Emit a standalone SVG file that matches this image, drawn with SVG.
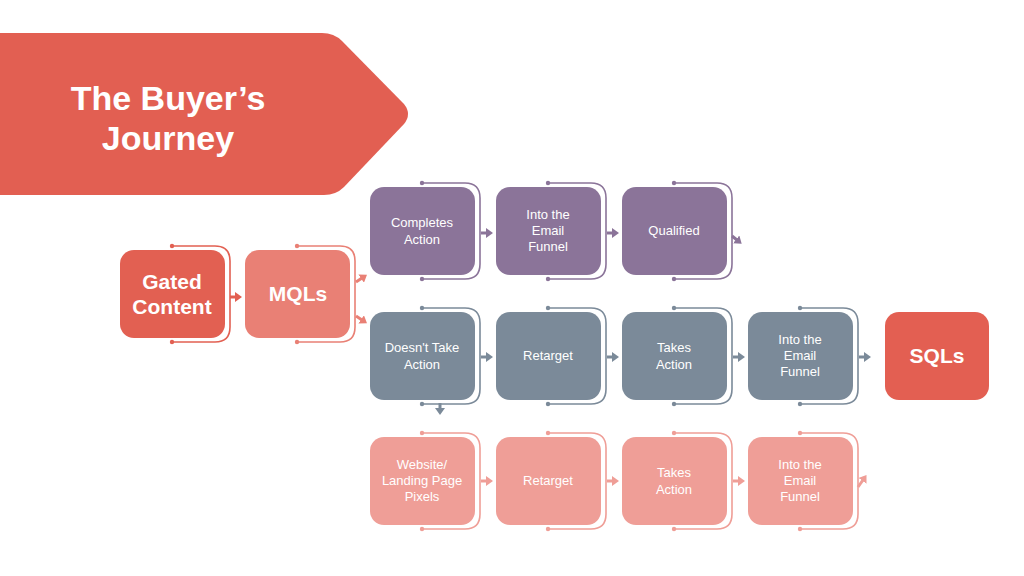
<svg xmlns="http://www.w3.org/2000/svg" width="1024" height="576" viewBox="0 0 1024 576">
<style>
text{font-family:"Liberation Sans",Arial,sans-serif;fill:#fff;text-anchor:middle}
.t{font-size:13px}
.b{font-size:21px;font-weight:bold}
.br{fill:none;stroke-width:1.6}
.ar{fill:none;stroke-width:3}
.red{fill:#E26052}.sal{fill:#E98075}.pur{fill:#8B7499}.sla{fill:#7B8A99}.pin{fill:#EF9E97}
.sred{stroke:#E26052}.ssal{stroke:#E98075}.spur{stroke:#8B7499}.ssla{stroke:#7B8A99}.spin{stroke:#EF9E97}
</style>
<defs>
<marker id="mred" viewBox="0 0 7 10" refX="1" refY="5" markerWidth="7" markerHeight="10" markerUnits="userSpaceOnUse" orient="auto"><path d="M0,0L7,5L0,10z" fill="#E26052"/></marker>
<marker id="msal" viewBox="0 0 7 10" refX="1" refY="5" markerWidth="7" markerHeight="10" markerUnits="userSpaceOnUse" orient="auto"><path d="M0,0L7,5L0,10z" fill="#E98075"/></marker>
<marker id="mpur" viewBox="0 0 7 10" refX="1" refY="5" markerWidth="7" markerHeight="10" markerUnits="userSpaceOnUse" orient="auto"><path d="M0,0L7,5L0,10z" fill="#8B7499"/></marker>
<marker id="msla" viewBox="0 0 7 10" refX="1" refY="5" markerWidth="7" markerHeight="10" markerUnits="userSpaceOnUse" orient="auto"><path d="M0,0L7,5L0,10z" fill="#7B8A99"/></marker>
<marker id="mpin" viewBox="0 0 7 10" refX="1" refY="5" markerWidth="7" markerHeight="10" markerUnits="userSpaceOnUse" orient="auto"><path d="M0,0L7,5L0,10z" fill="#EF9E97"/></marker>
</defs>
<rect width="1024" height="576" fill="#fff"/>

<g id="title">
<path d="M0,33H322Q334,33 342,41L404,104Q412,114 404,124L344,187Q336,195 324,195H0Z" fill="#E25F52"/>
<text x="168" y="110" style="font-size:34px;font-weight:bold">The Buyer’s</text>
<text x="168" y="150" style="font-size:34px;font-weight:bold">Journey</text>
</g>

<g id="gated">
<rect x="120" y="250" width="105" height="88" rx="14" class="red"/>
<path class="br sred" d="M172,246H215Q230,246 230,261V327Q230,342 215,342H172"/>
<circle cx="172" cy="246" r="2.2" class="red"/><circle cx="172" cy="342" r="2.2" class="red"/>
<text class="b" x="172" y="289">Gated</text><text class="b" x="172" y="314">Content</text>
</g>
<g id="mqls">
<rect x="245" y="250" width="105" height="88" rx="14" class="sal"/>
<path class="br ssal" d="M297,246H340Q355,246 355,261V327Q355,342 340,342H297"/>
<circle cx="297" cy="246" r="2.2" class="sal"/><circle cx="297" cy="342" r="2.2" class="sal"/>
<text class="b" x="298" y="301">MQLs</text>
</g>

<g id="completes">
<rect x="370" y="187" width="105" height="88" rx="14" class="pur"/>
<path class="br spur" d="M422,183H465Q480,183 480,198V264Q480,279 465,279H422"/>
<circle cx="422" cy="183" r="2.2" class="pur"/><circle cx="422" cy="279" r="2.2" class="pur"/>
<text class="t" x="422" y="227">Completes</text><text class="t" x="422" y="244">Action</text>
</g>
<g id="email1">
<rect x="496" y="187" width="105" height="88" rx="14" class="pur"/>
<path class="br spur" d="M548,183H591Q606,183 606,198V264Q606,279 591,279H548"/>
<circle cx="548" cy="183" r="2.2" class="pur"/><circle cx="548" cy="279" r="2.2" class="pur"/>
<text class="t" x="548" y="219">Into the</text><text class="t" x="548" y="235">Email</text><text class="t" x="548" y="251">Funnel</text>
</g>
<g id="qualified">
<rect x="622" y="187" width="105" height="88" rx="14" class="pur"/>
<path class="br spur" d="M674,183H717Q732,183 732,198V264Q732,279 717,279H674"/>
<circle cx="674" cy="183" r="2.2" class="pur"/><circle cx="674" cy="279" r="2.2" class="pur"/>
<text class="t" x="674" y="235">Qualified</text>
</g>

<g id="doesnt">
<rect x="370" y="312" width="105" height="88" rx="14" class="sla"/>
<path class="br ssla" d="M422,308H465Q480,308 480,323V389Q480,404 465,404H422"/>
<circle cx="422" cy="308" r="2.2" class="sla"/><circle cx="422" cy="404" r="2.2" class="sla"/>
<text class="t" x="422" y="352">Doesn't Take</text><text class="t" x="422" y="369">Action</text>
</g>
<g id="retarget2">
<rect x="496" y="312" width="105" height="88" rx="14" class="sla"/>
<path class="br ssla" d="M548,308H591Q606,308 606,323V389Q606,404 591,404H548"/>
<circle cx="548" cy="308" r="2.2" class="sla"/><circle cx="548" cy="404" r="2.2" class="sla"/>
<text class="t" x="548" y="360">Retarget</text>
</g>
<g id="takes2">
<rect x="622" y="312" width="105" height="88" rx="14" class="sla"/>
<path class="br ssla" d="M674,308H717Q732,308 732,323V389Q732,404 717,404H674"/>
<circle cx="674" cy="308" r="2.2" class="sla"/><circle cx="674" cy="404" r="2.2" class="sla"/>
<text class="t" x="674" y="352">Takes</text><text class="t" x="674" y="369">Action</text>
</g>
<g id="email2">
<rect x="748" y="312" width="105" height="88" rx="14" class="sla"/>
<path class="br ssla" d="M800,308H843Q858,308 858,323V389Q858,404 843,404H800"/>
<circle cx="800" cy="308" r="2.2" class="sla"/><circle cx="800" cy="404" r="2.2" class="sla"/>
<text class="t" x="800" y="344">Into the</text><text class="t" x="800" y="360">Email</text><text class="t" x="800" y="376">Funnel</text>
</g>
<g id="sqls">
<rect x="885" y="312" width="104" height="88" rx="14" fill="#E35F52"/>
<text class="b" x="937" y="363">SQLs</text>
</g>

<g id="website">
<rect x="370" y="437" width="105" height="88" rx="14" class="pin"/>
<path class="br spin" d="M422,433H465Q480,433 480,448V514Q480,529 465,529H422"/>
<circle cx="422" cy="433" r="2.2" class="pin"/><circle cx="422" cy="529" r="2.2" class="pin"/>
<text class="t" x="422" y="469">Website/</text><text class="t" x="422" y="485">Landing Page</text><text class="t" x="422" y="501">Pixels</text>
</g>
<g id="retarget3">
<rect x="496" y="437" width="105" height="88" rx="14" class="pin"/>
<path class="br spin" d="M548,433H591Q606,433 606,448V514Q606,529 591,529H548"/>
<circle cx="548" cy="433" r="2.2" class="pin"/><circle cx="548" cy="529" r="2.2" class="pin"/>
<text class="t" x="548" y="485">Retarget</text>
</g>
<g id="takes3">
<rect x="622" y="437" width="105" height="88" rx="14" class="pin"/>
<path class="br spin" d="M674,433H717Q732,433 732,448V514Q732,529 717,529H674"/>
<circle cx="674" cy="433" r="2.2" class="pin"/><circle cx="674" cy="529" r="2.2" class="pin"/>
<text class="t" x="674" y="477">Takes</text><text class="t" x="674" y="494">Action</text>
</g>
<g id="email3">
<rect x="748" y="437" width="105" height="88" rx="14" class="pin"/>
<path class="br spin" d="M800,433H843Q858,433 858,448V514Q858,529 843,529H800"/>
<circle cx="800" cy="433" r="2.2" class="pin"/><circle cx="800" cy="529" r="2.2" class="pin"/>
<text class="t" x="800" y="469">Into the</text><text class="t" x="800" y="485">Email</text><text class="t" x="800" y="501">Funnel</text>
</g>

<g id="connectors">
<line class="ar sred" x1="230" y1="297" x2="236" y2="297" marker-end="url(#mred)"/>
<line class="ar ssal" x1="356" y1="282" x2="362" y2="278" marker-end="url(#msal)"/>
<line class="ar ssal" x1="356" y1="316" x2="362" y2="320" marker-end="url(#msal)"/>
<line class="ar spur" x1="481" y1="233" x2="487" y2="233" marker-end="url(#mpur)"/>
<line class="ar spur" x1="607" y1="233" x2="613" y2="233" marker-end="url(#mpur)"/>
<line class="ar spur" x1="732" y1="236" x2="737" y2="240" marker-end="url(#mpur)"/>
<line class="ar ssla" x1="481" y1="357" x2="487" y2="357" marker-end="url(#msla)"/>
<line class="ar ssla" x1="607" y1="357" x2="613" y2="357" marker-end="url(#msla)"/>
<line class="ar ssla" x1="733" y1="357" x2="739" y2="357" marker-end="url(#msla)"/>
<line class="ar ssla" x1="859" y1="357" x2="865" y2="357" marker-end="url(#msla)"/>
<line class="ar ssla" x1="440" y1="403" x2="440" y2="409" marker-end="url(#msla)"/>
<line class="ar spin" x1="481" y1="481" x2="487" y2="481" marker-end="url(#mpin)"/>
<line class="ar spin" x1="607" y1="481" x2="613" y2="481" marker-end="url(#mpin)"/>
<line class="ar spin" x1="733" y1="481" x2="739" y2="481" marker-end="url(#mpin)"/>
<line class="ar spin" x1="858" y1="487" x2="863" y2="480" marker-end="url(#mpin)"/>
</g>
</svg>
